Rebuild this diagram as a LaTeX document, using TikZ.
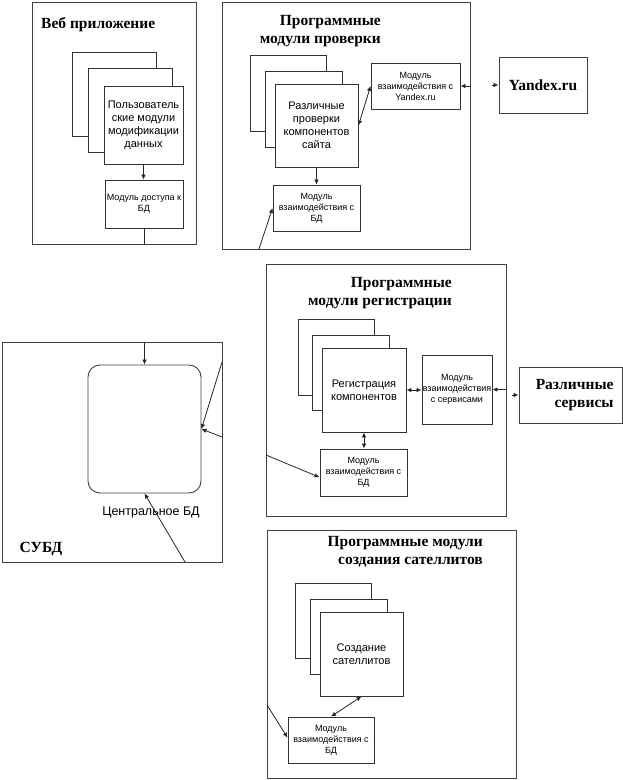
\documentclass[tikz,border=0pt]{standalone}
\usepackage{fontspec}
\setmainfont{Liberation Serif}
\setsansfont{Liberation Sans}
\usetikzlibrary{arrows.meta,calc}
\tikzset{
  frame/.style={draw=black!75, line width=0.9pt, rectangle, inner sep=0pt},
  box/.style={draw=black!80, line width=0.9pt, fill=white, rectangle, inner sep=1pt, align=center, font=\sffamily\fontsize{11}{13}\selectfont},
  smallbox/.style={box, font=\sffamily\fontsize{9}{11}\selectfont},
  title/.style={font=\rmfamily\bfseries\fontsize{15.5}{18}\selectfont, inner sep=0pt},
  conn/.style={draw=black!85, line width=0.8pt},
  arr/.style={conn, -{Latex[length=5pt,width=4.5pt]}},
  darr/.style={conn, {Latex[length=5pt,width=4.5pt]}-{Latex[length=5pt,width=4.5pt]}}
}
\begin{document}
\begin{tikzpicture}[x=1pt,y=-1pt]
\useasboundingbox (0,0) rectangle (623,780);

% containers
\node[frame, minimum width=164pt, minimum height=242pt] (web) at (114,123) {};
\node[frame, minimum width=248pt, minimum height=247pt] (check) at (346,125.5) {};
\node[frame, minimum width=240pt, minimum height=252pt] (reg) at (386,390) {};
\node[frame, minimum width=220pt, minimum height=220pt] (subd) at (112,452) {};
\node[frame, minimum width=249pt, minimum height=248pt] (sat) at (391.5,654) {};

% titles
\node[title, anchor=west] (webt) at (41,25) {Веб приложение};
\node[title, anchor=east, align=right] (checkt) at (381,31) {Программные\\модули проверки};
\node[title, anchor=east, align=right] (regt) at (452,293) {Программные\\модули регистрации};
\node[title, anchor=east, align=right] (satt) at (483,552) {Программные модули\\создания сателлитов};
\node[title] (subdt) at (41,549) {СУБД};

% web application
\node[box, minimum width=84pt, minimum height=84pt] (wb1) at (114,94) {};
\node[box, minimum width=84pt, minimum height=84pt] (wb2) at (130,110) {};
\node[box, minimum width=79pt, minimum height=78pt] (wfront) at (143.5,125) {Пользователь\\ские модули\\модификации\\данных};
\node[smallbox, minimum width=78pt, minimum height=48pt] (wacc) at (144,204) {Модуль доступа к\\БД};

% check modules
\node[box, minimum width=76pt, minimum height=76pt] (cb1) at (288,93) {};
\node[box, minimum width=77pt, minimum height=76pt] (cb2) at (303.5,109) {};
\node[box, minimum width=83pt, minimum height=83pt] (cfront) at (316.5,125.5) {Различные\\проверки\\компонентов\\сайта};
\node[smallbox, minimum width=89pt, minimum height=46pt] (cyan) at (415.5,86) {Модуль\\взаимодействия с\\Yandex.ru};
\node[smallbox, minimum width=87pt, minimum height=46pt] (cdb) at (316.5,208) {Модуль\\взаимодействия с\\БД};
\node[frame, minimum width=88pt, minimum height=56pt, font=\rmfamily\bfseries\fontsize{15.5}{18}\selectfont] (yandex) at (543,85) {Yandex.ru};

% registration modules
\node[box, minimum width=76pt, minimum height=76pt] (rb1) at (336,357) {};
\node[box, minimum width=77pt, minimum height=75pt] (rb2) at (350.5,372.5) {};
\node[box, minimum width=84pt, minimum height=84pt] (rfront) at (364,390) {Регистрация\\компонентов};
\node[smallbox, minimum width=70pt, minimum height=69pt, inner sep=0pt] (rsvc) at (457,389.5) {Модуль\\взаимодействия\\с сервисами};
\node[smallbox, minimum width=87pt, minimum height=47pt] (rdb) at (363.5,472.5) {Модуль\\взаимодействия с\\БД};
\node[frame, minimum width=103pt, minimum height=56pt, text width=86pt, align=right, font=\rmfamily\bfseries\fontsize{15.5}{18}\selectfont] (svc) at (570.5,395) {Различные\\сервисы};

% DBMS
\node[draw=black!75, line width=0.9pt, rounded corners=12pt, minimum width=113pt, minimum height=128pt] (cdbbox) at (144.5,429) {};
\node[font=\sffamily\fontsize{12.5}{15}\selectfont, inner sep=0pt] (cdblabel) at (151,512) {Центральное БД};

% satellite modules
\node[box, minimum width=76pt, minimum height=75pt] (sb1) at (333,620.5) {};
\node[box, minimum width=77pt, minimum height=75pt] (sb2) at (348.5,636.5) {};
\node[box, minimum width=83pt, minimum height=84pt] (sfront) at (361.5,654) {Создание\\сателлитов};
\node[smallbox, minimum width=86pt, minimum height=46pt] (sdb) at (331,740) {Модуль\\взаимодействия с\\БД};

% free ends
\coordinate (yin) at (492,85);
\coordinate (svin) at (512,395);
\coordinate (c1) at (259,249);
\coordinate (r1) at (266,455);
\coordinate (s1) at (267,705);
\coordinate (d1) at (222,362);
\coordinate (d2) at (222,437);
\coordinate (d3) at (185,562);

% connectors
\draw[arr] (wfront.south) -- (wfront.south |- wacc.north);
\draw[conn] (wacc.south) -- (wacc.south |- web.south);
\draw[arr] (cdbbox.north |- subd.north) -- (cdbbox.north);

\draw[arr] (cfront.south) -- (cfront.south |- cdb.north);
\draw[darr] (cfront.east) -- (cyan.west);
\draw[arr] (check.east |- cyan.east) -- (cyan.east);
\draw[arr] (yin) -- (yandex.west);
\draw[arr] (c1) -- (cdb.west);

\draw[darr] (rfront.east) -- (rfront.east -| rsvc.west);
\draw[arr] (reg.east |- rsvc.east) -- (rsvc.east);
\draw[arr] (svin) -- (svc.west);
\draw[darr] (rfront.south) -- (rfront.south |- rdb.north);
\draw[arr] (r1) -- ($(rdb.north west)!0.6!(rdb.south west)$);

\draw[arr] (d1) -- (cdbbox.east);
\draw[arr] (d2) -- (cdbbox.east);
\draw[arr] (d3) -- (cdbbox.south);

\draw[darr] (sfront.south) -- (sdb.north);
\draw[arr] (s1) -- ($(sdb.north west)!0.45!(sdb.south west)$);
\end{tikzpicture}
\end{document}
